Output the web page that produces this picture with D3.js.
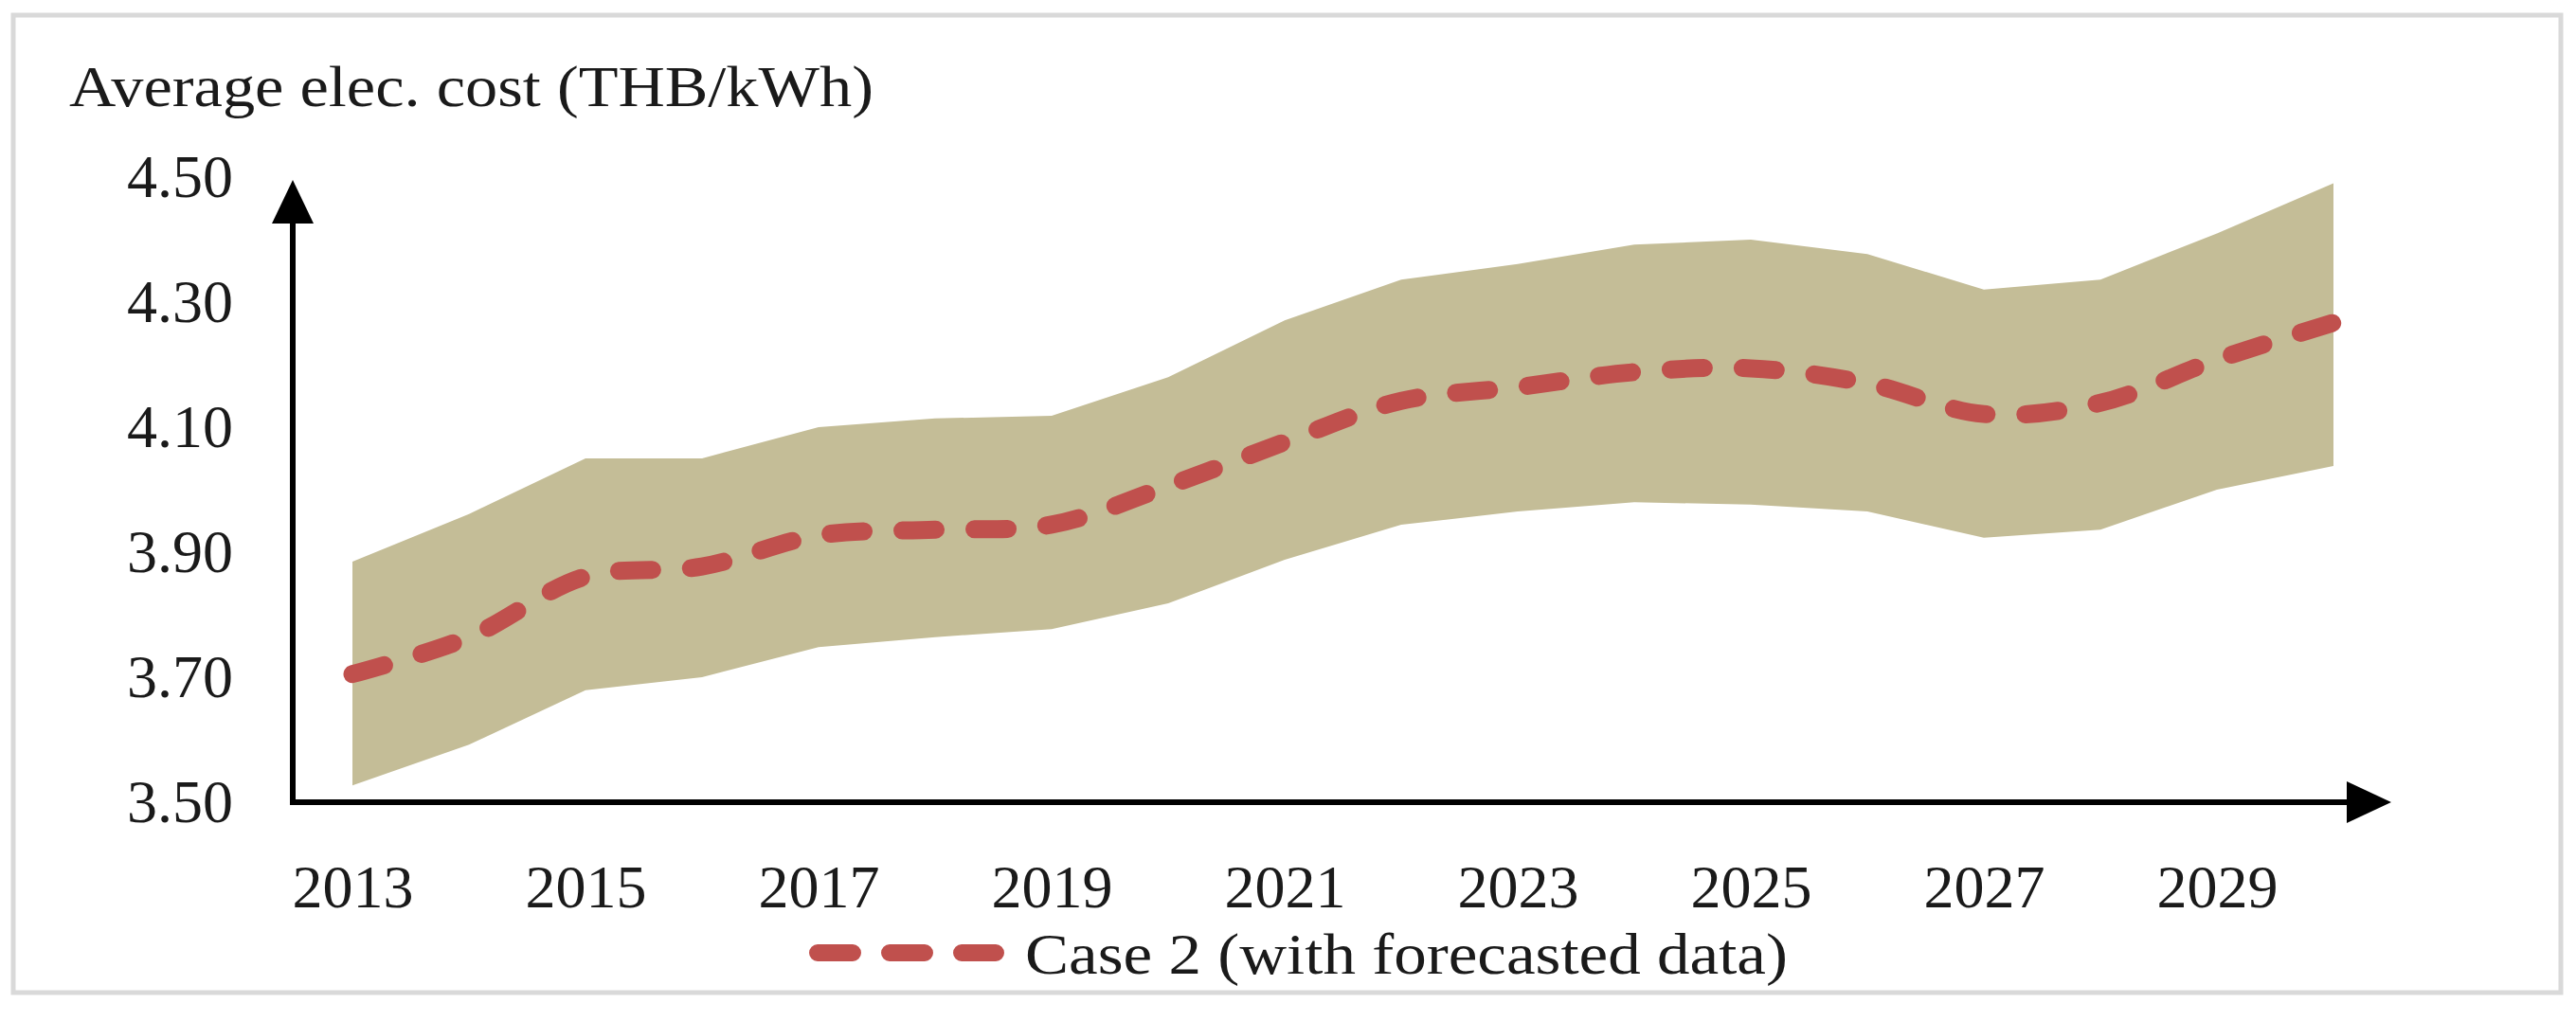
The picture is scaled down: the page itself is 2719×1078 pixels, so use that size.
<!DOCTYPE html>
<html>
<head>
<meta charset="utf-8">
<script src="https://cdn.jsdelivr.net/npm/d3@7"></script>
<style>
  body { margin: 0; background: #fff; }
  svg text { font-family: "Liberation Serif", "Times New Roman", serif; fill: #1a1a1a; }
</style>
</head>
<body>
<svg id="chart" width="2719" height="1078"></svg>
<script>
'use strict';

var years  = [2013, 2014, 2015, 2016, 2017, 2018, 2019, 2020, 2021,
              2022, 2023, 2024, 2025, 2026, 2027, 2028, 2029, 2030]
  , upper  = [3.885, 3.961, 4.050, 4.050, 4.100, 4.114, 4.118, 4.180, 4.271,
              4.336, 4.361, 4.392, 4.400, 4.377, 4.320, 4.336, 4.410, 4.490]
  , lower  = [3.527, 3.592, 3.679, 3.700, 3.748, 3.764, 3.777, 3.818, 3.888,
              3.944, 3.965, 3.980, 3.976, 3.965, 3.923, 3.936, 4.000, 4.038]
  , case2  = [3.705, 3.764, 3.861, 3.877, 3.927, 3.936, 3.944, 4.006, 4.076,
              4.142, 4.164, 4.188, 4.194, 4.170, 4.121, 4.139, 4.208, 4.267]
  , yTicks = [3.50, 3.70, 3.90, 4.10, 4.30, 4.50]
  , xTicks = [2013, 2015, 2017, 2019, 2021, 2023, 2025, 2027, 2029]
  , yTitle = 'Average elec. cost (THB/kWh)'
  , legendLabel = 'Case 2 (with forecasted data)';

var svg = d3.select('#chart');

var x = d3.scaleLinear().domain([2013, 2030]).range([372, 2463])
  , y = d3.scaleLinear().domain([3.5, 4.5]).range([847, 187]);

var originX = 309
  , originY = y(3.5);

// outer frame
svg.append('rect')
   .attr('x', 14).attr('y', 16)
   .attr('width', 2689).attr('height', 1032)
   .attr('fill', '#fff')
   .attr('stroke', '#d9d9d9')
   .attr('stroke-width', 5);

var rows = years.map(function(yr, i){
  return { year: yr, lo: lower[i], hi: upper[i], v: case2[i] };
});

// min-max band
svg.append('path')
   .datum(rows)
   .attr('fill', '#c4bd97')
   .attr('d', d3.area()
      .x(function(d){ return x(d.year); })
      .y0(function(d){ return y(d.lo); })
      .y1(function(d){ return y(d.hi); }));

// axes (drawn as arrows)
svg.append('line')
   .attr('x1', originX).attr('y1', originY + 3)
   .attr('x2', originX).attr('y2', 232)
   .attr('stroke', '#000').attr('stroke-width', 6);
svg.append('path')
   .attr('d', 'M' + originX + ',190 L' + (originX - 22) + ',236 L' + (originX + 22) + ',236 Z')
   .attr('fill', '#000');

svg.append('line')
   .attr('x1', originX - 3).attr('y1', originY)
   .attr('x2', 2480).attr('y2', originY)
   .attr('stroke', '#000').attr('stroke-width', 6);
svg.append('path')
   .attr('d', 'M2524,' + originY + ' L2477,' + (originY - 22) + ' L2477,' + (originY + 22) + ' Z')
   .attr('fill', '#000');

// tick labels
var yAxis = svg.append('g')
   .attr('transform', 'translate(' + originX + ',0)')
   .call(d3.axisLeft(y).tickValues(yTicks).tickFormat(d3.format('.2f')).tickSize(0).tickPadding(63));

var xAxis = svg.append('g')
   .attr('transform', 'translate(0,' + originY + ')')
   .call(d3.axisBottom(x).tickValues(xTicks).tickFormat(d3.format('d')).tickSize(0).tickPadding(66));

[yAxis, xAxis].forEach(function(g){
  g.select('.domain').remove();
  g.selectAll('text')
   .style('font-family', '"Liberation Serif", serif')
   .style('font-size', '64px')
   .attr('fill', '#1a1a1a');
});

// forecast line
svg.append('path')
   .datum(rows)
   .attr('fill', 'none')
   .attr('stroke', '#c0504d')
   .attr('stroke-width', 19)
   .attr('stroke-linecap', 'round')
   .attr('stroke-dasharray', '35,41')
   .attr('d', d3.line()
      .curve(d3.curveCatmullRom)
      .x(function(d){ return x(d.year); })
      .y(function(d){ return y(d.v); }));

// axis title
svg.append('text')
   .attr('x', 73).attr('y', 112)
   .attr('textLength', 849)
   .attr('lengthAdjust', 'spacingAndGlyphs')
   .style('font-size', '62px')
   .text(yTitle);

// legend
svg.append('line')
   .attr('x1', 863).attr('x2', 1051)
   .attr('y1', 1006).attr('y2', 1006)
   .attr('stroke', '#c0504d')
   .attr('stroke-width', 18)
   .attr('stroke-linecap', 'round')
   .attr('stroke-dasharray', '37,39');

svg.append('text')
   .attr('x', 1082).attr('y', 1028)
   .attr('textLength', 805)
   .attr('lengthAdjust', 'spacingAndGlyphs')
   .style('font-size', '62px')
   .text(legendLabel);
</script>
</body>
</html>
